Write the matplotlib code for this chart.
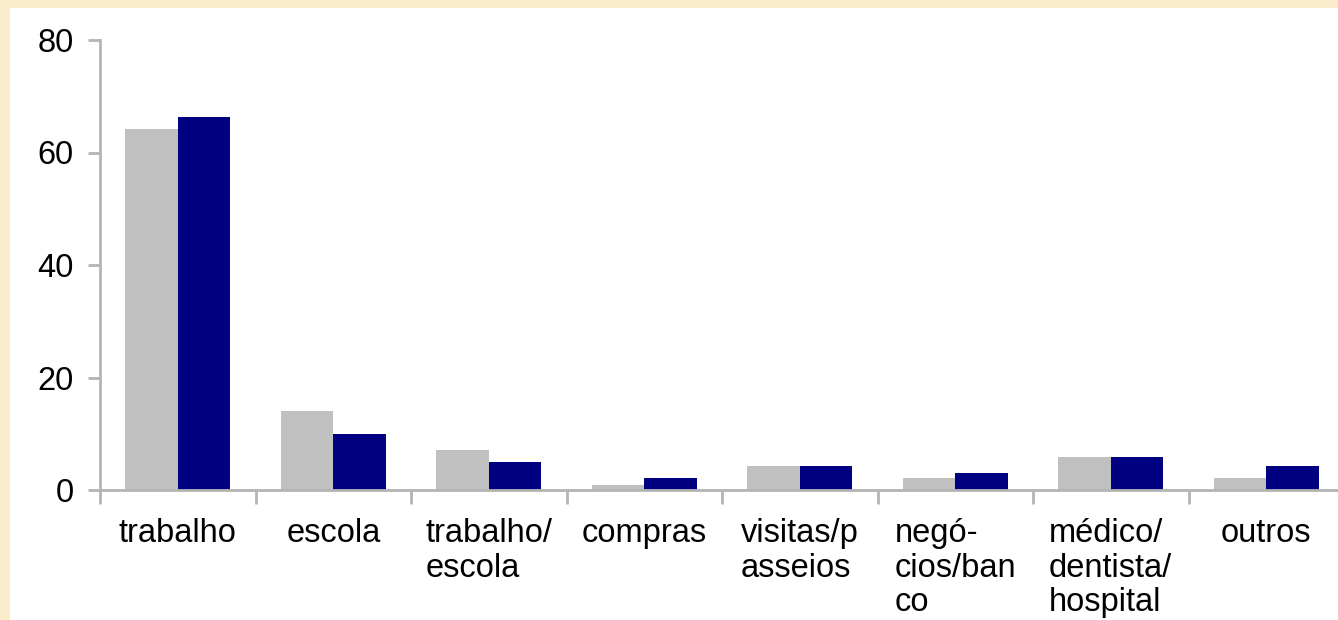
import numpy as np
import matplotlib
matplotlib.use("Agg")
import matplotlib.pyplot as plt
from matplotlib.patches import Rectangle

# dados
categorias = ["trabalho", "escola", "trabalho/\nescola", "compras", "visitas/p\nasseios",
              "negó-\ncios/ban\nco", "médico/\ndentista/\nhospital", "outros"]
serie_cinza = [64.2, 14.0, 7.1, 0.9, 4.3, 2.1, 5.9, 2.1]
serie_azul = [66.3, 10.0, 5.0, 2.1, 4.3, 3.0, 5.9, 4.3]
yticks = [0, 20, 40, 60, 80]

plt.rcParams['font.family'] = ['Liberation Sans', 'DejaVu Sans']

W, H = 1338, 620
fig = plt.figure(figsize=(W / 100, H / 100), dpi=100)
fig.patch.set_facecolor('#FBEDCC')

# fundo branco do grafico
fig.patches.append(Rectangle((10 / W, 0), 1, 1 - 8 / H, transform=fig.transFigure,
                             facecolor='white', edgecolor='none', zorder=-10))

ax = fig.add_axes([100 / W, 130 / H, 1244 / W, 450 / H])
ax.set_facecolor('none')

x = np.arange(len(categorias))
larg = 0.338
ax.bar(x - larg / 2, serie_cinza, larg, color='#C0C0C0', zorder=2)
ax.bar(x + larg / 2, serie_azul, larg, color='#000080', zorder=2)

ax.set_xlim(-0.5, len(categorias) - 0.5)
ax.set_ylim(0, 80)

cinza = '#B4B4B4'
for s in ['top', 'right']:
    ax.spines[s].set_visible(False)
for s in ['left', 'bottom']:
    ax.spines[s].set_color(cinza)
    ax.spines[s].set_linewidth(2)

ax.set_yticks(yticks)
ax.set_yticklabels([str(v) for v in yticks], fontsize=23.5)
ax.tick_params(axis='y', length=9, width=2, color=cinza, pad=10)

ax.set_xticks(np.arange(-0.5, len(categorias), 1.0))
ax.set_xticklabels([])
ax.tick_params(axis='x', which='major', length=10, width=2, color=cinza)
ax.set_xticks(x, minor=True)
ax.set_xticklabels(categorias, minor=True, fontsize=23.5, va='top',
                   multialignment='left', linespacing=1.13)
ax.tick_params(axis='x', which='minor', length=0, pad=20.5)

fig.savefig('out.png', dpi=100, facecolor=fig.get_facecolor())
